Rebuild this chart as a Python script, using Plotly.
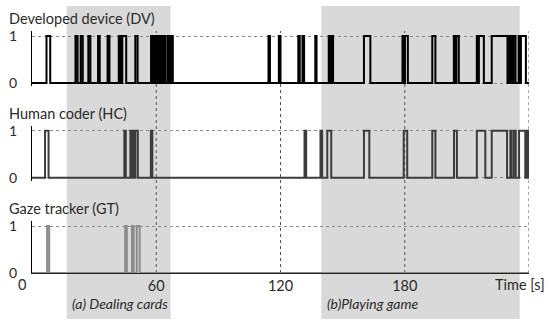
import plotly.graph_objects as go

# ---- data (seconds) ----
dv_pulses = [(7.0, 8.8), (21.0, 22.0), (23.5, 24.5), (27.2, 28.2), (31.9, 32.7),
             (36.5, 37.4), (41.9, 42.8), (43.6, 45.5), (49.9, 51.0),
             (57.5, 58.2), (58.5, 59.2), (59.5, 60.2), (60.5, 61.2), (61.5, 62.2),
             (62.5, 63.2), (63.5, 64.3), (65.4, 66.1), (66.4, 67.1), (67.4, 68.0),
             (114.2, 114.9), (119.2, 120.0), (128.6, 129.3), (130.6, 131.4),
             (136.8, 137.4), (143.3, 144.1), (144.5, 145.4), (160.3, 163.4),
             (178.9, 179.7), (180.1, 181.5), (193.3, 194.8), (203.7, 204.5),
             (204.9, 206.1), (214.8, 215.5), (215.8, 218.2), (222.0, 229.6),
             (230.0, 230.8), (231.2, 232.1), (232.5, 233.5), (235.0, 235.7),
             (236.1, 238.5)]
hc_pulses = [(6.3, 8.0), (44.6, 45.3), (47.5, 48.2), (48.7, 49.4), (49.9, 51.1),
             (57.4, 58.1), (131.6, 132.4), (139.3, 140.1), (142.6, 144.5),
             (160.3, 162.9), (179.5, 181.2), (193.3, 194.8), (203.8, 205.2),
             (214.8, 218.9), (222.0, 229.4), (231.0, 231.5), (232.6, 233.6),
             (235.2, 238.2), (238.7, 239.6)]
gt_pulses = [(7.3, 8.3), (45.0, 45.8), (48.3, 49.1), (50.6, 52.0)]

series_names = ["Developed device (DV)", "Human coder (HC)", "Gaze tracker (GT)"]
series_colors = ["#000000", "#3c3c3c", "#8c8c8c"]
phase_ranges = [(16.8, 66.9), (139.7, 235.5)]
phase_labels = ["(a) Dealing cards", "(b)Playing game"]
phase_label_x = [42.3, 164.4]
x_ticks = [0, 60, 120, 180, 240]
x_ticktext = ["", "60", "120", "180", ""]
x_title = "Time [s]"
t_end = 240


def step_xy(pulses):
    xs, ys = [0], [0]
    for s, e in pulses:
        xs += [s, e]
        ys += [1, 0]
    xs.append(t_end)
    ys.append(0)
    return xs, ys


fig = go.Figure()
axes = ["y", "y2", "y3"]
for pulses, name, color, ax in zip([dv_pulses, hc_pulses, gt_pulses],
                                   series_names, series_colors, axes):
    xs, ys = step_xy(pulses)
    fig.add_trace(go.Scatter(x=xs, y=ys, mode="lines", line=dict(shape="hv", color=color, width=2),
                             yaxis=ax, name=name, showlegend=False, hoverinfo="skip"))

FONT = "Lato"
TXT = "#2a2a2a"
yax_common = dict(range=[-0.0638, 1.1064], tickvals=[0, 1], ticktext=["0", "1"],
                  showgrid=True, gridcolor="#8a8a8a", griddash="dot", gridwidth=1,
                  zeroline=False, showline=True, linecolor="#000", linewidth=1,
                  ticks="outside", ticklen=11, tickcolor="rgba(0,0,0,0)", automargin=False,
                  tickfont=dict(family=FONT, size=14, color=TXT), fixedrange=True)

fig.update_layout(
    width=550, height=327,
    margin=dict(l=32, r=21, t=20, b=54, autoexpand=False),
    paper_bgcolor="white", plot_bgcolor="rgba(0,0,0,0)",
    xaxis=dict(range=[0, t_end], tickvals=x_ticks, ticktext=x_ticktext, automargin=False,
               showgrid=False, zeroline=False, showline=True, linecolor="#222", linewidth=1,
               ticks="", fixedrange=True,
               tickfont=dict(family=FONT, size=14.5, color=TXT), anchor="y3"),
    yaxis=dict(domain=[0.7391, 0.9565], **yax_common),
    yaxis2=dict(domain=[0.3648, 0.5822], **yax_common),
    yaxis3=dict(domain=[0.0, 0.2055], **{**yax_common, "range": [0, 1.1064]}),
)

shapes = []
for s, e in phase_ranges:
    shapes.append(dict(type="rect", xref="x", yref="paper", x0=s, x1=e, y0=-0.1818, y1=1.0553,
                       fillcolor="#d9d9d9", line=dict(width=0), layer="below"))
for t in x_ticks[1:]:
    shapes.append(dict(type="line", xref="x", yref="paper", x0=t, x1=t, y0=0, y1=0.9565,
                       line=dict(color="#555555", width=1, dash="dot"), layer="below"))
fig.update_layout(shapes=shapes)

annotations = []
for label, lx in zip(phase_labels, phase_label_x):
    annotations.append(dict(x=lx, y=-0.1186, xref="x", yref="paper", text=f"<i>{label}</i>",
                            showarrow=False, font=dict(family=FONT, size=14, color=TXT),
                            xanchor="center", yanchor="middle"))
for label, yy in zip(series_names, [1.006, 0.6285, 0.2545]):
    annotations.append(dict(x=-0.0497, y=yy, xref="paper", yref="paper", text=label, showarrow=False,
                            font=dict(family=FONT, size=14.5, color=TXT), xanchor="left", yanchor="middle"))
# x tick label "0" sits a little left of the origin in the original
annotations.append(dict(x=-0.0207, y=-0.047, xref="paper", yref="paper", text="0", showarrow=False,
                        font=dict(family=FONT, size=14.5, color=TXT), xanchor="center", yanchor="middle"))
annotations.append(dict(x=1.0355, y=-0.047, xref="paper", yref="paper", text=x_title, showarrow=False,
                        font=dict(family=FONT, size=14.5, color=TXT), xanchor="right", yanchor="middle"))
fig.update_layout(annotations=annotations)

fig.write_html("out.html", post_script="document.body.style.margin='0';",
               config={"displayModeBar": False})
